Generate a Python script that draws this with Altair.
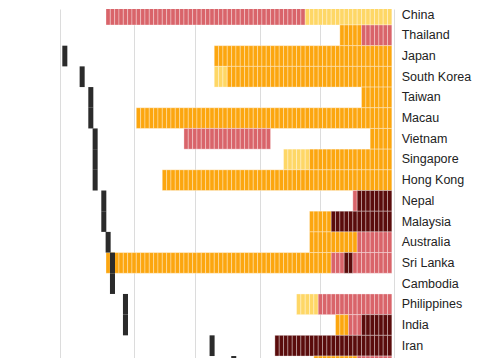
import altair as alt
import pandas as pd

# Rows, top to bottom (ordered by date of first reported case)
countries = ["China", "Thailand", "Japan", "South Korea", "Taiwan", "Macau",
             "Vietnam", "Singapore", "Hong Kong", "Nepal", "Malaysia",
             "Australia", "Sri Lanka", "Cambodia", "Philippines", "India",
             "Iran", "Afghanistan"]
first_case = [None, None, "2020-01-16", "2020-01-20", "2020-01-22", "2020-01-22",
              "2020-01-23", "2020-01-23", "2020-01-23", "2020-01-25", "2020-01-25",
              "2020-01-26", "2020-01-27", "2020-01-27", "2020-01-30", "2020-01-30",
              "2020-02-19", "2020-02-24"]

# Runs of days with the same response level (start, end inclusive)
run_country = ["China", "China", "Thailand", "Thailand", "Japan", "South Korea",
               "South Korea", "Taiwan", "Macau", "Vietnam", "Vietnam",
               "Singapore", "Singapore", "Hong Kong", "Nepal", "Nepal",
               "Malaysia", "Malaysia", "Australia", "Australia",
               "Sri Lanka", "Sri Lanka", "Sri Lanka", "Sri Lanka",
               "Philippines", "Philippines", "India", "India", "India",
               "Iran", "Afghanistan", "Afghanistan"]
run_start = ["2020-01-26", "2020-03-12", "2020-03-20", "2020-03-25", "2020-02-20", "2020-02-20",
             "2020-02-23", "2020-03-25", "2020-02-02", "2020-02-13", "2020-03-27",
             "2020-03-07", "2020-03-13", "2020-02-08", "2020-03-23", "2020-03-24",
             "2020-03-13", "2020-03-18", "2020-03-13", "2020-03-24",
             "2020-01-26", "2020-03-18", "2020-03-21", "2020-03-23",
             "2020-03-10", "2020-03-15", "2020-03-19", "2020-03-22", "2020-03-25",
             "2020-03-05", "2020-03-14", "2020-03-24"]
run_end = ["2020-03-11", "2020-03-31", "2020-03-24", "2020-03-31", "2020-03-31", "2020-02-22",
           "2020-03-31", "2020-03-31", "2020-03-31", "2020-03-03", "2020-03-31",
           "2020-03-12", "2020-03-31", "2020-03-31", "2020-03-23", "2020-03-31",
           "2020-03-17", "2020-03-31", "2020-03-23", "2020-03-31",
           "2020-03-17", "2020-03-20", "2020-03-22", "2020-03-31",
           "2020-03-14", "2020-03-31", "2020-03-21", "2020-03-24", "2020-03-31",
           "2020-03-31", "2020-03-23", "2020-03-31"]
run_level = [3, 1, 2, 3, 2, 1,
             2, 2, 2, 3, 2,
             1, 2, 2, 3, 4,
             2, 4, 2, 3,
             2, 3, 4, 3,
             1, 3, 2, 3, 4,
             4, 2, 3]

level_names = ["Level 1", "Level 2", "Level 3", "Level 4"]
level_colors = ["#fed766", "#fca60f", "#d9646a", "#5a0c0c"]
grid_dates = ["2020-01-15", "2020-02-01", "2020-02-15", "2020-03-01", "2020-03-15", "2020-04-01"]
x_start, x_end = "2020-01-03", "2020-04-01"

origin = pd.Timestamp("2020-01-15")


def day(s):
    return (pd.Timestamp(s) - origin) / pd.Timedelta(days=1)


W = 386
H = 360
row_px = 20.69
y_top = 0.227
y_bottom = y_top + H / row_px

cell_rows = []
for c, s, e, lv in zip(run_country, run_start, run_end, run_level):
    for d in range(int(day(s)), int(day(e)) + 1):
        r = countries.index(c)
        cell_rows.append({"country": c, "row": r, "row1": r + 1,
                          "d0": d - 0.5, "d1": d + 0.5,
                          "level": level_names[lv - 1]})
cells = pd.DataFrame(cell_rows)

mark_rows = []
for i, (c, f) in enumerate(zip(countries, first_case)):
    if f is not None:
        d = day(f)
        mark_rows.append({"country": c, "row": i, "row1": i + 1,
                          "d0": d - 0.58, "d1": d + 0.58})
marks = pd.DataFrame(mark_rows)

# labels only for rows whose centre lies inside the plotted window
labels = pd.DataFrame({"country": countries,
                       "mid": [i + 0.5 for i in range(len(countries))]})
labels = labels[labels["mid"] < y_bottom - 0.5]

xs = alt.Scale(domain=[day(x_start) - 0.12, day(x_end)], nice=False, zero=False)
ys = alt.Scale(domain=[y_top, y_bottom], nice=False, zero=False, reverse=True)

x_axis = alt.Axis(values=[day(g) for g in grid_dates], grid=True, labels=False,
                  ticks=False, domain=False, title=None, gridColor="#dcdcdc",
                  gridWidth=1)

cell_layer = alt.Chart(cells).mark_rect(
    clip=True, stroke="white", strokeWidth=0.6, strokeOpacity=0.55
).encode(
    x=alt.X("d0:Q", scale=xs, axis=x_axis),
    x2="d1:Q",
    y=alt.Y("row:Q", scale=ys, axis=None),
    y2="row1:Q",
    color=alt.Color("level:N", scale=alt.Scale(domain=level_names, range=level_colors),
                    legend=None),
)

mark_layer = alt.Chart(marks).mark_rect(clip=True, color="#2b2b2b").encode(
    x=alt.X("d0:Q", scale=xs),
    x2="d1:Q",
    y=alt.Y("row:Q", scale=ys),
    y2="row1:Q",
)

label_layer = alt.Chart(labels).mark_text(
    align="left", baseline="middle", font="Liberation Sans", fontSize=12.5,
    color="#222222"
).encode(
    x=alt.value(W + 7.7),
    y=alt.Y("mid:Q", scale=ys),
    text="country:N",
)

chart = alt.layer(cell_layer, mark_layer, label_layer).properties(
    width=W, height=H, padding={"left": 0, "top": 0, "right": 5, "bottom": 0}
).configure_view(strokeWidth=0)

chart.save("out.html", embed_options={"renderer": "svg", "actions": False})
